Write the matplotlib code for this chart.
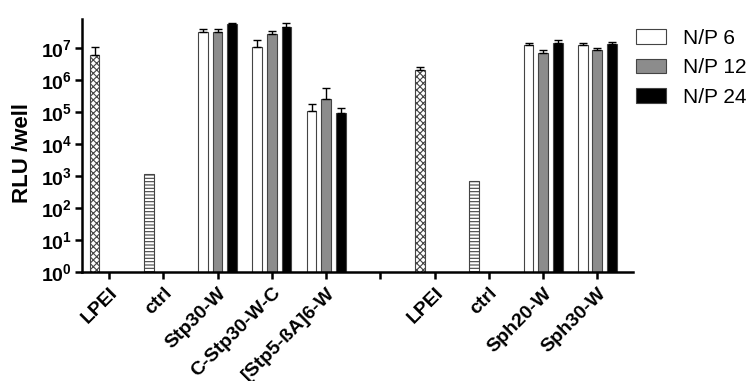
import numpy as np
import matplotlib
matplotlib.use('Agg')
import matplotlib.pyplot as plt
from matplotlib.patches import Patch
from matplotlib.ticker import FixedLocator

plt.rcParams['font.family'] = ['Liberation Sans', 'DejaVu Sans']
plt.rcParams['mathtext.fontset'] = 'custom'
plt.rcParams['mathtext.rm'] = 'Liberation Sans'
plt.rcParams['mathtext.bf'] = 'Liberation Sans:bold'
plt.rcParams['hatch.linewidth'] = 0.8

# x categories (one blank slot between the two experiments)
categories = ['LPEI', 'ctrl', 'Stp30-W', 'C-Stp30-W-C', '[Stp5-ßA]6-W', '',
              'LPEI', 'ctrl', 'Sph20-W', 'Sph30-W']

# controls: position index, mean, upper error end
lpei_pos = [0, 6]
lpei_val = [6.0e6, 2.05e6]
lpei_err = [1.07e7, 2.5e6]
ctrl_pos = [1, 7]
ctrl_val = [1.15e3, 7.1e2]

# oligomer groups
group_pos = [2, 3, 4, 8, 9]
np6 = [3.1e7, 1.1e7, 1.1e5, 1.24e7, 1.2e7]
np6_top = [3.9e7, 1.7e7, 1.8e5, 1.47e7, 1.4e7]
np12 = [3.1e7, 2.8e7, 2.5e5, 6.8e6, 8.3e6]
np12_top = [3.8e7, 3.3e7, 5.4e5, 8.7e6, 1.02e7]
np24 = [5.5e7, 4.4e7, 9.1e4, 1.47e7, 1.3e7]
np24_top = [5.9e7, 5.9e7, 1.3e5, 1.7e7, 1.55e7]

series_names = ['N/P 6', 'N/P 12', 'N/P 24']
series_colors = ['white', '#8c8c8c', 'black']

fig = plt.figure(figsize=(7.52, 3.81), dpi=100)
ax = fig.add_axes([0.109, 0.286, 0.733, 0.664])

w = 0.18
off = 0.268
edge = '#444444'

def draw(pos, vals, tops, color, hatch=None):
    pos = np.array(pos, dtype=float)
    vals = np.array(vals)
    ax.bar(pos, vals, width=w, color=color, edgecolor=edge, linewidth=0.8,
           hatch=hatch, zorder=2)
    if tops is not None:
        up = np.array(tops) - vals
        ax.errorbar(pos, vals, yerr=[np.zeros_like(vals), up], fmt='none',
                    ecolor='black', elinewidth=1, capsize=3, capthick=1, zorder=3)

draw(np.array(lpei_pos) - off, lpei_val, lpei_err, 'white', 'xxxxx')
draw(np.array(ctrl_pos) - off, ctrl_val, None, 'white', '-----')
for i, (v, t) in enumerate([(np6, np6_top), (np12, np12_top), (np24, np24_top)]):
    draw(np.array(group_pos) + (i - 1) * off, v, t, series_colors[i])

ax.set_yscale('log')
ax.set_ylim(1, 10 ** 7.9)
ax.set_xlim(-0.5, 9.66)
ax.yaxis.set_major_locator(FixedLocator([10.0 ** k for k in range(8)]))
ax.yaxis.set_minor_locator(FixedLocator([]))
ax.set_yticklabels([r'$\mathbf{10^{%d}}$' % k for k in range(8)], fontsize=14)

ax.set_xticks(range(len(categories)))
ax.set_xticklabels(categories, rotation=45, ha='right', rotation_mode='anchor',
                   fontsize=14, fontweight='bold')

for s in ['top', 'right']:
    ax.spines[s].set_visible(False)
for s in ['left', 'bottom']:
    ax.spines[s].set_linewidth(1.8)
ax.tick_params(axis='both', which='major', width=1.8, length=5, direction='out')
ax.tick_params(axis='x', pad=4)
ax.tick_params(axis='y', pad=2)

ax.set_ylabel('RLU /well', fontsize=16, fontweight='bold')
ax.yaxis.set_label_coords(-0.088, 0.47)

handles = [Patch(facecolor=c, edgecolor=edge, linewidth=0.8) for c in series_colors]
ax.legend(handles, series_names, loc='upper left', bbox_to_anchor=(0.846, 0.924),
          bbox_transform=fig.transFigure, frameon=False, fontsize=15,
          handlelength=1.45, handleheight=0.7, labelspacing=0.5, handletextpad=0.8,
          borderaxespad=0, borderpad=0)

fig.savefig('out.png', dpi=100)
